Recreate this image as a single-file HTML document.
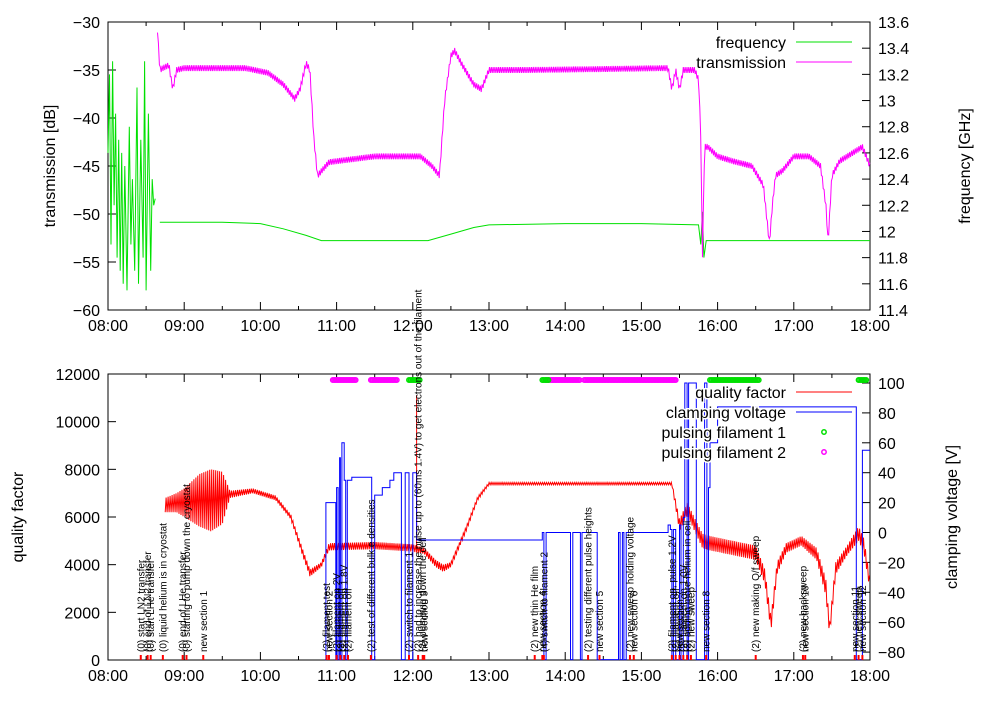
<!DOCTYPE html>
<html><head><meta charset="utf-8"><style>
body{margin:0;background:#fff}
svg{font-family:"Liberation Sans",sans-serif}
</style></head><body>
<svg id="c" width="1000" height="700" viewBox="0 0 1000 700"></svg>
<script>
// ---- data (time in decimal hours) ----
const transT=[8.65,8.68,8.72,8.8,8.85,8.9,9.0,9.5,9.8,10.1,10.3,10.45,10.52,10.6,10.65,10.7,10.75,10.9,11.2,11.5,11.8,12.1,12.25,12.35,12.42,12.5,12.55,12.65,12.8,12.9,13.0,13.5,14.5,15.35,15.4,15.45,15.5,15.55,15.6,15.7,15.75,15.78,15.8,15.83,15.87,16.0,16.2,16.45,16.6,16.68,16.72,16.76,16.85,17.0,17.2,17.35,17.42,17.45,17.5,17.6,17.8,17.9,18.0];
const transV=[-30.8,-35,-34.8,-34.5,-37,-35,-34.8,-34.8,-34.8,-35.3,-36.5,-38,-37,-34.3,-35,-42,-46,-44.6,-44.3,-44,-44,-44,-45,-46,-38,-33.5,-33,-34.5,-36.5,-37,-35,-35,-34.9,-34.8,-37,-35,-37,-35,-35,-35,-36,-42,-55,-43,-43,-44,-44.5,-45,-47,-53,-49,-46,-45.5,-44,-44,-45,-49,-53,-46,-44.5,-43.5,-43,-45];
const freqT=[8.0,8.02,8.04,8.06,8.08,8.1,8.12,8.14,8.16,8.18,8.2,8.22,8.25,8.28,8.3,8.32,8.35,8.38,8.4,8.43,8.46,8.48,8.5,8.53,8.56,8.58,8.6,8.62,null,8.68,9.5,10.0,10.3,10.6,10.8,11.5,12.2,12.5,12.8,13.0,14.0,15.0,15.75,15.78,15.8,15.82,15.85,16.5,17.5,18.0];
const freqV=[12.6,13.2,11.9,13.3,12.2,12.9,11.8,12.7,11.7,12.6,11.6,12.5,11.55,12.8,11.9,12.4,11.7,13.1,11.6,12.7,11.8,13.3,11.55,12.9,11.7,12.4,12.2,12.25,null,12.07,12.07,12.06,12.02,11.97,11.93,11.93,11.93,11.98,12.03,12.05,12.06,12.06,12.05,11.9,12.15,11.8,11.93,11.93,11.93,11.93];
// quality factor envelope (noisy band): time, upper, lower
const qT=[8.75,8.9,9.0,9.2,9.35,9.5,9.6,9.9,10.2,10.4,10.55,10.65,10.8,10.9,11.5,12.0,12.15,12.3,12.4,12.5,12.7,12.85,13.0,14.0,15.0,15.4,15.5,15.6,15.8,15.9,16.2,16.5,16.62,16.7,16.78,16.9,17.1,17.3,17.42,17.47,17.55,17.7,17.85,17.92,18.0];
const qHi=[6800,7000,7200,7800,8000,7900,7100,7200,6900,6100,4700,3800,4100,4900,4950,4850,4700,4200,4000,4100,5600,6850,7450,7450,7450,7450,5900,6600,5300,5200,5000,4800,3800,1800,4100,4900,5200,4700,3400,1500,4100,4800,5600,5100,3400];
const qLo=[6200,6200,6000,5600,5400,5700,6800,7000,6700,5900,4400,3500,3900,4600,4650,4550,4450,3900,3700,3900,5400,6700,7350,7350,7350,7350,5400,6100,4700,4600,4400,4200,3200,1200,3600,4500,4800,4200,2700,1000,3600,4400,5000,4500,2900];
// clamping voltage steps [V]
const vT=[10.85,10.86,10.98,10.99,11.0,11.02,11.04,11.05,11.07,11.1,11.12,11.14,11.2,11.45,11.46,11.5,11.55,11.6,11.65,11.7,11.75,11.8,11.85,11.9,11.95,12.0,12.05,13.6,13.7,13.72,13.75,13.8,13.82,14.05,14.07,14.1,14.15,14.2,14.22,14.4,14.42,14.7,14.72,14.75,14.77,14.8,15.35,15.38,15.4,15.42,15.45,15.5,15.52,15.55,15.57,15.6,15.62,15.65,15.7,15.72,15.8,15.83,15.86,15.88,15.9,16.0,16.1,17.8,17.82,17.9,18.0];
const vV=[-85,20,20,-85,30,-85,50,-85,60,35,-85,35,37,37,-85,25,25,30,30,35,40,40,-85,40,-85,40,-5,-5,0,-85,0,0,0,0,-85,0,0,-85,0,0,-85,0,-85,0,-85,0,5,2,-85,2,-85,5,-85,10,100,-85,100,100,100,-85,-85,100,-85,30,60,84,84,84,-85,55,55];
const fil1=[[11.95,12.1],[13.7,13.78],[15.9,16.55],[17.85,17.95]];
const fil2=[[10.95,11.25],[11.45,11.8],[13.75,14.2],[14.25,15.45]];
const noteT=[8.43,8.52,8.56,8.72,8.98,9.03,9.25,10.87,10.9,11.0,11.05,11.1,11.15,11.45,11.95,12.07,12.13,12.15,13.6,13.7,13.72,14.3,14.45,14.85,14.9,15.4,15.45,15.5,15.55,15.6,15.65,15.85,16.5,17.12,17.15,17.8,17.85,17.9];
const noteL=["(0) start LN2 transfer","(0) end of LN2 transfer","(0) start LHe transfer","(0) liquid helium is in cryostat","(0) end of LHe transfer","(0) starting to pump down the cryostat","new section 1","(2) filament test","new section 2","(2) filament on 2V","(2) filament off","(2) filament on 1.8V","(2) filament off","(2) test of different bulk e densities","(2) switch to filament 1","(2) had to increase the pulse up to (60ms 1.4V) to get electrons out of the filament","(2) pumping down the cell","new section 3","(2) new thin He film","new section 4","(4) switch to filament 2","(2) testing different pulse heights","new section 5","(2) new sweep holding voltage","new section 6","(2) filament on, pulse 1.2V","(2) filament off","new section 7","(2) filament on 1.0V","(2) adding more helium in cell","(2) new sweep","new section 8","(2) new making Q/f sweep","(2) new backsweep","new section 10","new section 11","(2) new sweep","new section 12"];
const hourLabels=["08:00","09:00","10:00","11:00","12:00","13:00","14:00","15:00","16:00","17:00","18:00"];
const dbTicks=[-30,-35,-40,-45,-50,-55,-60];
const fTicks=[13.6,13.4,13.2,13,12.8,12.6,12.4,12.2,12,11.8,11.6,11.4];
const qTicks=[0,2000,4000,6000,8000,10000,12000];
const vTicks=[100,80,60,40,20,0,-20,-40,-60,-80];
// ---- scales ----
const X0=108,X1=870;
const xS=t=>X0+(t-8)*(X1-X0)/10;
const yDB=v=>22+(-30-v)/30*288;
const yF=f=>22+(13.6-f)/2.2*288;
const yQ=q=>660-q/12000*286;
const yV=v=>532.5-v*1.495;
const svg=document.getElementById('c');
const NS='http://www.w3.org/2000/svg';
function mk(tag,at,parent){const e=document.createElementNS(NS,tag);for(const k in at)e.setAttribute(k,at[k]);(parent||svg).appendChild(e);return e;}
function txt(s,at){const e=mk('text',at);e.textContent=s;return e;}
function line(x1,y1,x2,y2,c,w){return mk('line',{x1,y1,x2,y2,stroke:c,'stroke-width':w||1});}
function path(ts,vs,ys,c,w){let d='',pen=false;for(let i=0;i<ts.length;i++){if(ts[i]===null){pen=false;continue;}d+=(pen?'L':'M')+xS(ts[i]).toFixed(1)+' '+ys(vs[i]).toFixed(1);pen=true;}return mk('path',{d,fill:'none',stroke:c,'stroke-width':w||1});}
function interp(ts,vs,t){for(let i=0;i<ts.length-1;i++){if(t>=ts[i]&&t<=ts[i+1]){const f=(t-ts[i])/(ts[i+1]-ts[i]);return vs[i]+f*(vs[i+1]-vs[i]);}}return vs[vs.length-1];}
function frame(y0,y1,name){const r=mk('rect',{x:X0,y:y0,width:X1-X0,height:y1-y0,fill:'none',stroke:'#000'});
 for(let h=0;h<=20;h++){const x=X0+h*(X1-X0)/20,L=h%2?4:8;line(x,y1,x,y1-L,'#000');line(x,y0,x,y0+L,'#000');}
 hourLabels.forEach((s,i)=>{const t=txt(s,{x:xS(8+i),y:y1+21,'font-size':16,'text-anchor':'middle'});});}
// ---- top panel ----
frame(22,310,'top-plot-frame');
dbTicks.forEach(v=>{const y=yDB(v);line(X0,y,X0+8,y,'#000');const t=txt(String(v).replace('-','−'),{x:100,y:y+6,'font-size':16,'text-anchor':'end'});});
fTicks.forEach(v=>{const y=yF(v);line(X1,y,X1-8,y,'#000');const t=txt(String(v),{x:878,y:y+6,'font-size':16});});
let e=txt('transmission [dB]',{x:0,y:0,'font-size':16,'text-anchor':'middle',transform:'translate(55,166) rotate(-90)'});
e=txt('frequency [GHz]',{x:0,y:0,'font-size':16,'text-anchor':'middle',transform:'translate(970,166) rotate(-90)'});
e=path(freqT,freqV,yF,'#00e000');
// transmission drawn with small noise band around the read values
(function(){let d='';let k=0;for(let t=transT[0];t<=transT[transT.length-1];t+=0.012){const v=interp(transT,transV,t)+(k%2?0.3:-0.3);d+=(k?'L':'M')+xS(t).toFixed(1)+' '+yDB(v).toFixed(1);k++;}
 const p=mk('path',{d,fill:'none',stroke:'#ff00ff','stroke-width':1});})();
e=txt('frequency',{x:786,y:48,'font-size':16,'text-anchor':'end'});
line(796,42,852,42,'#00e000');
e=txt('transmission',{x:786,y:68,'font-size':16,'text-anchor':'end'});
line(796,62,852,62,'#ff00ff');
// ---- bottom panel ----
frame(374,660,'bottom-plot-frame');
qTicks.forEach(v=>{const y=yQ(v);line(X0,y,X0+8,y,'#000');const t=txt(String(v),{x:100,y:y+6,'font-size':16,'text-anchor':'end'});});
vTicks.forEach(v=>{const y=yV(v);line(X1,y,X1-8,y,'#000');const t=txt(String(v).replace('-','−'),{x:878,y:y+6,'font-size':16});});
e=txt('quality factor',{x:0,y:0,'font-size':16,'text-anchor':'middle',transform:'translate(23,517) rotate(-90)'});
e=txt('clamping voltage [V]',{x:0,y:0,'font-size':16,'text-anchor':'middle',transform:'translate(957,517) rotate(-90)'});
// quality factor: zigzag between envelope arrays
(function(){let d='';let k=0;for(let t=qT[0];t<=qT[qT.length-1];t+=0.013){const v=(k%2?interp(qT,qHi,t):interp(qT,qLo,t));d+=(k?'L':'M')+xS(t).toFixed(1)+' '+yQ(v).toFixed(1);k++;}
 const p=mk('path',{d,fill:'none',stroke:'#ff0000','stroke-width':1});
 const s=line(xS(12.05),yQ(4500),xS(12.05),yQ(11100),'#ff0000');})();
// clamping voltage as steps
(function(){let d='';for(let i=0;i<vT.length;i++){const x=xS(vT[i]).toFixed(1),y=yV(vV[i]).toFixed(1);if(i===0)d='M'+x+' '+y;else d+='H'+x+'V'+y;}
 const p=mk('path',{d,fill:'none',stroke:'#0000ff','stroke-width':1});})();
function dots(ranges,c,name){ranges.forEach(r=>{for(let t=r[0];t<=r[1];t+=0.02){const cc=mk('circle',{cx:xS(t),cy:380,r:2.2,fill:'none',stroke:c,'stroke-width':1.5});}});}
dots(fil2,'#ff00ff','filament-2-marker');dots(fil1,'#00e000','filament-1-marker');
// annotations
noteT.forEach((t,i)=>{const x=xS(t);const m=line(x,655,x,660,'#ff0000',2);
 const a=txt(noteL[i],{x:0,y:0,'font-size':10,transform:'translate('+(x+3.5)+',652) rotate(-90)'});});
const leg=[['quality factor',392,'line','#ff0000'],['clamping voltage',412,'line','#0000ff'],['pulsing filament 1',432,'dot','#00e000'],['pulsing filament 2',452,'dot','#ff00ff']];
leg.forEach(l=>{const t=txt(l[0],{x:786,y:l[1]+6,'font-size':16,'text-anchor':'end','stroke':'#fff','stroke-width':3,'paint-order':'stroke'});
 if(l[2]==='line')line(796,l[1],852,l[1],l[3]);else mk('circle',{cx:824,cy:l[1],r:2.2,fill:'none',stroke:l[3],'stroke-width':1.5});});
</script>
</body></html>
